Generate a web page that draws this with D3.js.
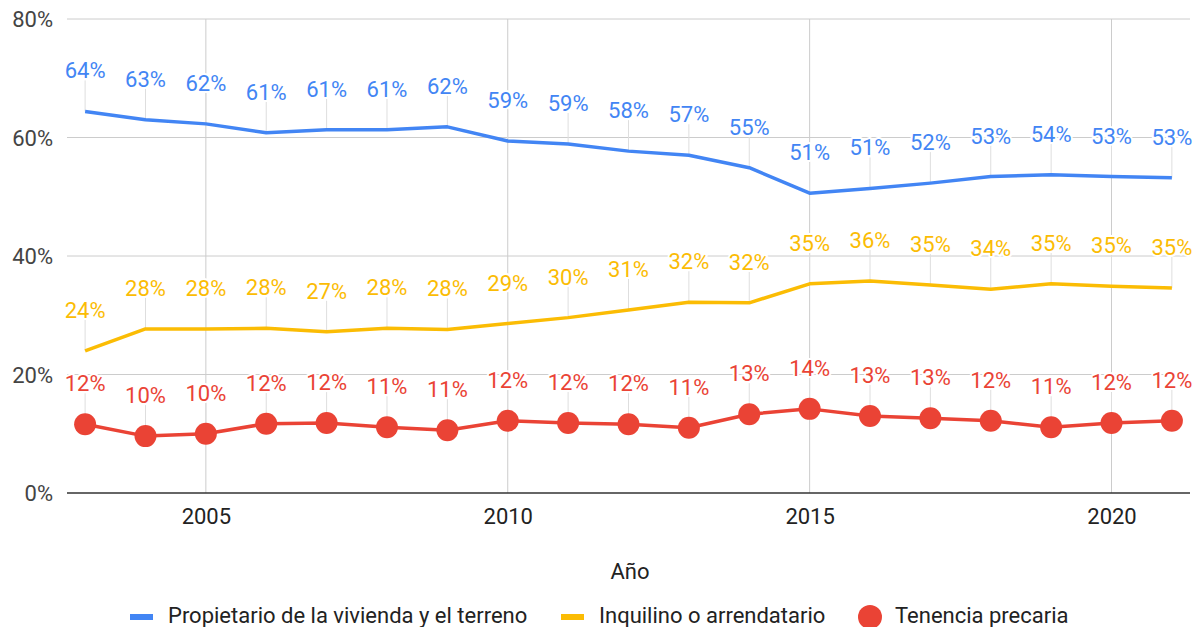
<!DOCTYPE html>
<html><head><meta charset="utf-8">
<script src="https://cdn.jsdelivr.net/npm/d3@7"></script>
<style>body{margin:0;background:#fff}svg{display:block;font-family:Roboto,sans-serif}</style>
</head><body><svg id="c" width="1202" height="627"></svg>
<script>
const years = [2003,2004,2005,2006,2007,2008,2009,2010,2011,2012,2013,2014,2015,2016,2017,2018,2019,2020,2021];
const propietario = [64.4,63.0,62.3,60.8,61.3,61.3,61.8,59.4,58.9,57.7,57.0,54.9,50.6,51.4,52.3,53.4,53.7,53.4,53.2];
const inquilino = [24.0,27.7,27.7,27.8,27.2,27.8,27.6,28.6,29.6,30.9,32.2,32.1,35.3,35.8,35.1,34.4,35.3,34.9,34.6];
const precaria = [11.6,9.6,10.0,11.7,11.8,11.1,10.6,12.2,11.8,11.6,11.0,13.3,14.2,13.0,12.6,12.2,11.1,11.8,12.2];
const seriesNames = ["Propietario de la vivienda y el terreno","Inquilino o arrendatario","Tenencia precaria"];
const yTicks = [0,20,40,60,80];
const xTicks = [2005,2010,2015,2020];
const xTitle = "Año";

const colors = ["#4285F4","#FBBC04","#EA4335"];
const FS = 22;
const svg = d3.select("#c");
const x = d3.scaleLinear().domain([2002.7,2021.3]).range([67,1190]);
const y = d3.scaleLinear().domain([0,80]).range([493,19]);
const pct = d3.format(".0%");

// gridlines
svg.append("g").selectAll("line").data(yTicks.filter(t=>t>0)).join("line")
  .attr("x1",x.range()[0]).attr("x2",x.range()[1]).attr("y1",d=>y(d)).attr("y2",d=>y(d))
  .attr("stroke","#cccccc").attr("stroke-width",1);
svg.append("g").selectAll("line").data(xTicks).join("line")
  .attr("x1",d=>x(d)).attr("x2",d=>x(d)).attr("y1",y(80)).attr("y2",y(0))
  .attr("stroke","#cccccc").attr("stroke-width",1);

// y axis labels
const yAxis = d3.axisLeft(y).tickValues(yTicks).tickSize(0).tickPadding(0).tickFormat(d=>d+"%");
const ga = svg.append("g").attr("transform","translate(53,0)").call(yAxis);
ga.select(".domain").remove();
ga.selectAll("text").attr("font-size",FS).attr("fill","#444").attr("font-family","Roboto").attr("dy","0.36em");

const xAxis = d3.axisBottom(x).tickValues(xTicks).tickSize(0).tickPadding(0).tickFormat(d3.format("d"));
const gx = svg.append("g").attr("transform","translate(0,"+y(0)+")").call(xAxis);
gx.select(".domain").remove();
gx.selectAll("text").attr("font-size",FS).attr("fill","#222").attr("font-family","Roboto").attr("dy","0").attr("y",31);

// baseline
svg.append("line").attr("x1",x.range()[0]).attr("x2",x.range()[1]).attr("y1",y(0)).attr("y2",y(0))
  .attr("stroke","#333").attr("stroke-width",1.5);

const data = [propietario,inquilino,precaria];
const line = d3.line().x((d,i)=>x(years[i])).y(d=>y(d));

// leader lines
data.forEach((s,k)=>{
  svg.append("g").selectAll("line").data(s).join("line")
    .attr("x1",(d,i)=>x(years[i])).attr("x2",(d,i)=>x(years[i]))
    .attr("y1",d=>y(d)-31).attr("y2",d=>y(d))
    .attr("stroke","#dedede").attr("stroke-width",1);
});

data.forEach((s,k)=>{
  svg.append("path").datum(s).attr("d",line).attr("fill","none")
    .attr("stroke",colors[k]).attr("stroke-width",3.5).attr("stroke-linejoin","round");
});
svg.append("g").selectAll("circle").data(precaria).join("circle")
  .attr("cx",(d,i)=>x(years[i])).attr("cy",d=>y(d)).attr("r",11).attr("fill",colors[2]);

// labels
data.forEach((s,k)=>{
  svg.append("g").selectAll("text").data(s).join("text")
    .attr("x",(d,i)=>x(years[i])).attr("y",d=>y(d)-33)
    .attr("text-anchor","middle").attr("font-size",FS).attr("fill",colors[k])
    .attr("stroke","#fff").attr("stroke-width",4).attr("paint-order","stroke").attr("stroke-linejoin","round")
    .text(d=>pct(d/100));
});

// x title
svg.append("text").attr("x",630).attr("y",579).attr("text-anchor","middle")
  .attr("font-size",FS).attr("fill","#222").text(xTitle);

// legend
const lg = svg.append("g");
const items = [{x:130,t:"rect"},{x:561,t:"rect"},{x:858,t:"circle"}];
items.forEach((it,k)=>{
  if(it.t==="rect") lg.append("rect").attr("x",it.x).attr("y",614).attr("width",23).attr("height",6).attr("fill",colors[k]);
  else lg.append("circle").attr("cx",it.x+12).attr("cy",617).attr("r",12).attr("fill",colors[k]);
  lg.append("text").attr("x",it.x+(it.t==="rect"?38:37)).attr("y",623).attr("font-size",FS).attr("fill","#222").text(seriesNames[k]);
});
</script></body></html>
